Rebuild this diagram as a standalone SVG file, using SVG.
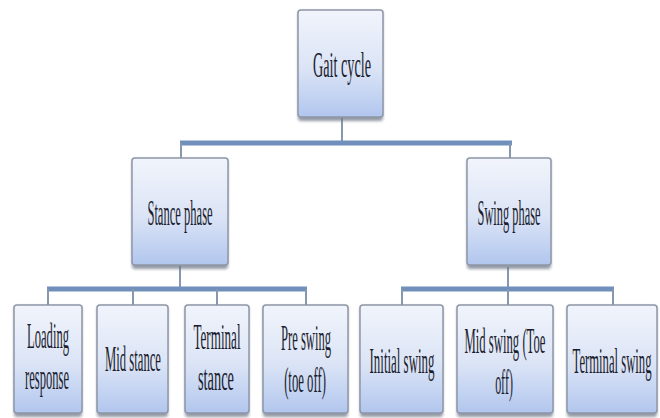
<svg xmlns="http://www.w3.org/2000/svg" width="660" height="418" viewBox="0 0 660 418">
<defs>
<linearGradient id="boxg" x1="0" y1="0" x2="0" y2="1">
<stop offset="0" stop-color="#f1f4fb"/>
<stop offset="0.55" stop-color="#dbe4f6"/>
<stop offset="1" stop-color="#b1c6ee"/>
</linearGradient>
<filter id="sh" x="-20%" y="-20%" width="140%" height="140%">
<feGaussianBlur stdDeviation="1.5"/>
</filter>
</defs>
<style>
.shadow{fill:#6f7888;opacity:0.75;filter:url(#sh)}
.box{fill:url(#boxg);stroke:#8e97a8;stroke-width:1.5}
.lbl{font-family:"Liberation Serif","Times New Roman",serif;font-size:36px;fill:#1b1d2e;text-anchor:middle}
.bar{stroke:#7090bb;stroke-width:5;fill:none;stroke-linecap:butt}
.stem{stroke:#8797ad;stroke-width:2;fill:none}
</style>
<rect width="660" height="418" fill="#ffffff"/>
<g id="connectors">
<line class="stem" x1="342" y1="118" x2="342" y2="141"/>
<line class="bar" x1="180" y1="143" x2="512" y2="143"/>
<line class="stem" x1="181" y1="143" x2="181" y2="158"/>
<line class="stem" x1="510" y1="143" x2="510" y2="158"/>
<line class="stem" x1="180" y1="266" x2="180" y2="287"/>
<line class="bar" x1="47" y1="289" x2="307" y2="289"/>
<line class="stem" x1="48" y1="289" x2="48" y2="305"/>
<line class="stem" x1="133" y1="289" x2="133" y2="305"/>
<line class="stem" x1="217" y1="289" x2="217" y2="305"/>
<line class="stem" x1="306" y1="289" x2="306" y2="305"/>
<line class="stem" x1="508" y1="267" x2="508" y2="287"/>
<line class="bar" x1="401" y1="289" x2="614" y2="289"/>
<line class="stem" x1="402" y1="289" x2="402" y2="305"/>
<line class="stem" x1="508" y1="289" x2="508" y2="305"/>
<line class="stem" x1="613" y1="289" x2="613" y2="305"/>
</g>
<g id="gait-cycle">
<rect class="shadow" x="298" y="11" width="85" height="110" rx="3"/>
<rect class="box" x="298" y="10" width="85" height="107" rx="3"/>
<text class="lbl" transform="translate(342,77) scale(0.395,1)">Gait cycle</text>
</g>
<g id="stance-phase">
<rect class="shadow" x="132" y="159" width="96" height="110" rx="3"/>
<rect class="box" x="132" y="158" width="96" height="107" rx="3"/>
<text class="lbl" transform="translate(180,225) scale(0.349,1)">Stance phase</text>
</g>
<g id="swing-phase">
<rect class="shadow" x="467" y="159" width="84" height="110" rx="3"/>
<rect class="box" x="467" y="158" width="84" height="107" rx="3"/>
<text class="lbl" transform="translate(509,225) scale(0.344,1)">Swing phase</text>
</g>
<g id="loading-response">
<rect class="shadow" x="14" y="306" width="68" height="111" rx="3"/>
<rect class="box" x="14" y="305" width="68" height="108" rx="3"/>
<text class="lbl" transform="translate(48,348) scale(0.35,1)">Loading</text>
<text class="lbl" transform="translate(47,389) scale(0.349,1)">response</text>
</g>
<g id="mid-stance">
<rect class="shadow" x="97" y="306" width="71" height="111" rx="3"/>
<rect class="box" x="97" y="305" width="71" height="108" rx="3"/>
<text class="lbl" transform="translate(133,371) scale(0.352,1)">Mid stance</text>
</g>
<g id="terminal-stance">
<rect class="shadow" x="185" y="306" width="64" height="111" rx="3"/>
<rect class="box" x="185" y="305" width="64" height="108" rx="3"/>
<text class="lbl" transform="translate(217,349) scale(0.364,1)">Terminal</text>
<text class="lbl" transform="translate(216,390) scale(0.4,1)">stance</text>
</g>
<g id="pre-swing">
<rect class="shadow" x="263" y="306" width="85" height="111" rx="3"/>
<rect class="box" x="263" y="305" width="85" height="108" rx="3"/>
<text class="lbl" transform="translate(306,350) scale(0.35,1)">Pre swing</text>
<text class="lbl" transform="translate(305,392) scale(0.353,1)">(toe off)</text>
</g>
<g id="initial-swing">
<rect class="shadow" x="360" y="306" width="83" height="111" rx="3"/>
<rect class="box" x="360" y="305" width="83" height="108" rx="3"/>
<text class="lbl" transform="translate(402,373) scale(0.359,1)">Initial swing</text>
</g>
<g id="mid-swing">
<rect class="shadow" x="457" y="306" width="96" height="111" rx="3"/>
<rect class="box" x="457" y="305" width="96" height="108" rx="3"/>
<text class="lbl" transform="translate(505,353) scale(0.353,1)">Mid swing (Toe</text>
<text class="lbl" transform="translate(504,394) scale(0.333,1)">off)</text>
</g>
<g id="terminal-swing">
<rect class="shadow" x="567" y="306" width="90" height="111" rx="3"/>
<rect class="box" x="567" y="305" width="90" height="108" rx="3"/>
<text class="lbl" transform="translate(612,373) scale(0.352,1)">Terminal swing</text>
</g>
</svg>
